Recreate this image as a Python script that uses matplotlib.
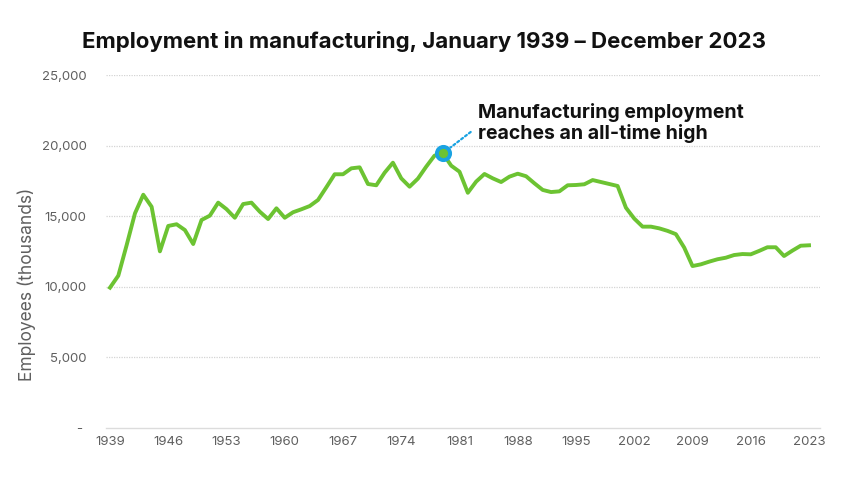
######################################################
# employment in manufacturing, 1939 - 2023
######################################################

import numpy as np
import matplotlib.pyplot as plt
from matplotlib.ticker import FuncFormatter

# data (thousands of employees)
years = list(range(1939, 2024))
employees = [
    9940, 10790, 12950, 15200, 16520, 15670, 12510, 14310, 14430, 14020,   # 1939-1948
    13030, 14730, 15040, 15960, 15500, 14890, 15860, 15960, 15320, 14800,  # 1949-1958
    15560, 14890, 15280, 15490, 15720, 16150, 17050, 17970, 17970, 18390,  # 1959-1968
    18460, 17280, 17190, 18080, 18790, 17680, 17090, 17660, 18510, 19290,  # 1969-1978
    19450, 18580, 18150, 16660, 17450, 17990, 17680, 17420, 17800, 18010,  # 1979-1988
    17830, 17330, 16860, 16710, 16760, 17190, 17210, 17260, 17560, 17420,  # 1989-1998
    17280, 17140, 15600, 14830, 14260, 14260, 14140, 13960, 13730, 12780,  # 1999-2008
    11470, 11590, 11780, 11950, 12060, 12250, 12320, 12300, 12540, 12800,  # 2009-2018
    12800, 12180, 12560, 12910, 12940,                                     # 2019-2023
]
year_ticks = list(range(1939, 2024, 7))
value_ticks = [0, 5000, 10000, 15000, 20000, 25000]

title = 'Employment in manufacturing, January 1939 \u2013 December 2023'
note = 'Manufacturing employment\nreaches an all-time high'

green = '#6cc332'
blue = '#1aa3e2'
grey = '#5f5f5f'

plt.rcParams['font.family'] = ['Inter', 'DejaVu Sans']

fig = plt.figure(figsize=(8.56, 4.84), dpi=100)
ax = fig.add_axes([106/856, (484-428)/484, 714/856, 353/484])

ax.plot(years, employees, color=green, lw=2.8, solid_joinstyle='round', zorder=3)

# highlight the peak
peak = int(np.argmax(employees))
ax.plot(years[peak], employees[peak], 'o', ms=9.5, mfc=green, mec=blue, mew=2.8, zorder=4)
ax.annotate(note, xy=(years[peak], employees[peak]), xycoords='data',
            xytext=(35, 10), textcoords='offset pixels',
            ha='left', va='bottom', fontsize=14, fontweight='bold', color='#111111',
            linespacing=1.15,
            arrowprops=dict(arrowstyle='-', color=blue, lw=1.6, linestyle=(0, (1, 1.2)),
                            relpos=(0, 0.42), shrinkA=4, shrinkB=7))

ax.set_xlim(1938.52, 2024.32)
ax.set_ylim(0, 25000)
ax.set_xticks(year_ticks)
ax.set_yticks(value_ticks)
ax.yaxis.set_major_formatter(FuncFormatter(lambda v, p: '- ' if v == 0 else f'{v:,.0f}'))
ax.tick_params(length=0, labelsize=9.5, colors=grey)
ax.tick_params(axis='x', pad=6)
ax.tick_params(axis='y', pad=14)

for v in value_ticks[1:]:
    ax.axhline(v, color='#d4d4d4', lw=0.9, linestyle=(0, (1, 1)), zorder=1)
for s in ['top', 'right', 'left']:
    ax.spines[s].set_visible(False)
ax.spines['bottom'].set_color('#dcdcdc')
ax.spines['bottom'].set_linewidth(1)

ax.set_ylabel('Employees (thousands)', fontsize=12.5, color=grey)
ax.yaxis.set_label_coords(-0.098, 0.408)

fig.text(424/856, 1 - 42/484, title, ha='center', va='center', fontsize=16, fontweight='bold',
         color='#111111')

fig.savefig('out.png', dpi=100)
